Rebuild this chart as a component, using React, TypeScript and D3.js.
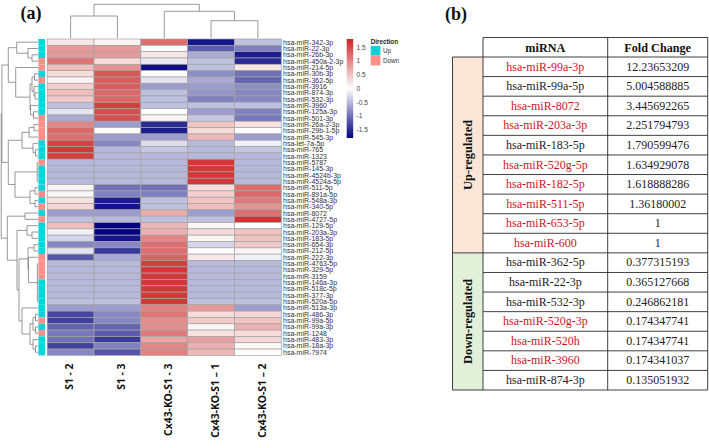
import React from "react";
import * as d3 from "d3";

const samples = ["S1 - 2", "S1 - 3", "Cx43-KO-S1 - 3", "Cx43-KO-S1 – 1", "Cx43-KO-S1 – 2"];
const mirnas = ["342-3p","22-3p","26b-3p","450a-2-3p","214-5p","30b-3p","362-5p","3916","874-3p","532-3p","3960","125a-3p","501-3p","26a-2-3p","29b-1-5p","545-3p","let-7a-5p","765","1323","5787","145-3p","4524b-3p","4524a-5p","511-5p","891a-5p","548a-3p","340-5p","8072","4727-5p","129-5p","203a-3p","183-5p","654-3p","212-5p","222-3p","4763-5p","329-5p","3159","146a-3p","518c-5p","377-3p","520a-5p","513a-3p","486-3p","99a-5p","99a-3p","1248","483-3p","18a-3p","7974"];
const s12 = [.2,.85,.85,1.15,.55,.3,.1,.4,.55,.45,-.45,-.2,-.6,1.0,1.25,1.2,1.55,1.65,1.6,-.5,-.5,-.5,-.5,.1,-.05,.25,.35,-.7,-.45,.55,-.1,-.3,-.85,-.2,-1.2,-.5,-.5,-.5,-.5,-.5,-.5,-.45,-.7,-1.3,-1.35,-1.1,-.95,-1.0,-1.35,-.85];
const s13 = [.1,.85,.85,.3,.9,1.4,1.35,1.35,1.25,1.25,1.6,1.45,1.45,-.7,.02,-.7,-.85,-.5,-.5,-.5,-.5,-.5,-.5,-1.0,-.9,-1.6,-1.65,-.7,-.5,-1.78,-1.78,-1.65,-.85,-1.4,-.6,-.5,-.5,-.5,-.5,-.5,-.5,-.45,-.7,-.85,-.85,-1.1,-1.15,-1.4,-.9,-1.2];
const ko3 = [1.2,.02,.2,-.15,-1.7,0,-.2,-.7,-.45,-.45,-.45,.02,.1,-1.5,-1.6,-.7,-.25,-.4,-.5,-.5,-.5,-.5,-.5,-1.0,-.9,-.45,-.45,.7,-.45,.6,.65,1.0,1.2,1.2,1.3,1.6,1.65,1.65,1.65,1.65,1.65,1.65,1.05,1.15,.95,.95,1.1,.75,1.0,1.05];
const ko1 = [-1.65,-1.15,-.6,-.45,-.45,-.8,-.6,-.7,-.75,-.9,-.45,-.7,-.4,.5,.3,.6,-.5,-.5,-.5,1.65,1.65,1.65,1.65,.3,.4,.5,.55,-.7,-.45,.08,.3,.1,-.3,0,.2,-.5,-.5,-.5,-.5,-.5,-.5,-.45,.85,.3,.45,.1,.25,.8,.65,.6];
const ko2 = [-.45,-.9,-1.6,-1.5,.2,-1.0,-1.1,-.8,-.85,-.85,-.45,-.9,-.95,.25,.02,-.7,-.1,-.4,-.5,-.5,-.5,-.5,-.5,1.2,1.25,1.1,.9,1.2,1.7,0,.5,.5,.45,.1,-.1,-.5,-.5,-.5,-.5,-.5,-.5,-.45,-.7,.35,.5,.65,.3,.35,.05,.02];
const columns = [s12, s13, ko3, ko1, ko2];
// Down annotation, 1-based row numbers; every other row is Up
const downRows = [4,5,7,13,14,15,16,20,25,27,29,35,36,37,38,45,47];
const colorDomain = [-1.8, 0, 1.8];
const colorRange = ["#000080", "#ffffff", "#cd2626"];
const colorTicks = [1.5, 1, 0.5, 0, -0.5, -1, -1.5];

type T = number | T[];
// [merge height, ...children]; a plain number inside children is a row number
const rowTree: T = [36.8,
  [36.1,
    [29.7,
      [21.3, 1, [10, 2, [6, 3, 4]]],
      [22.3, 5, [8,
        [6, [3.5, 6, 7], [4, 8, [3, 9, 10]]],
        [7.5, 11, [4.5, 12, 13]]]]],
    [29.7,
      [16, [9, [4, 14, 15], 16], [5, 17, [2.5, 18, 19]]],
      [23, [0.8, 20, 21, 22, 23], [8, [3, 24, 25], [3, 26, 27]]]]],
  [30.7,
    [13, 28, 29],
    [21,
      [11, 30, [6, 31, 32]],
      [19,
        [10, [4, 33, 34], [9.5, 35, [0.6, 36, 37, 38, 39, 40, 41, 42]]],
        [16, 43, [8,
          [5, [2.5, 44, 45], [2.5, 46, 47]],
          [5, 48, [2.5, 49, 50]]]]]]]];
// column numbers 1..5
const colTree: T = [33.7, [22, 1, 2], [26.7, 3, [17.3, 4, 5]]];

const tableHead = ["miRNA", "Fold Change"];
const upNames = ["hsa-miR-99a-3p","hsa-miR-99a-5p","hsa-miR-8072","hsa-miR-203a-3p","hsa-miR-183-5p","hsa-miR-520g-5p","hsa-miR-182-5p","hsa-miR-511-5p","hsa-miR-653-5p","hsa-miR-600"];
const upFold = ["12.23653209","5.004588885","3.445692265","2.251794793","1.790599476","1.634929078","1.618888286","1.36180002","1","1"];
const upRed = [true,false,true,true,false,true,true,true,true,true];
const downNames = ["hsa-miR-362-5p","hsa-miR-22-3p","hsa-miR-532-3p","hsa-miR-520g-3p","hsa-miR-520h","hsa-miR-3960","hsa-miR-874-3p"];
const downFold = ["0.377315193","0.365127668","0.246862181","0.174347741","0.174347741","0.174341037","0.135051932"];
const downRed = [false,false,false,true,true,true,false];

const W = 709, H = 448;
const hm = { l: 47.2, r: 281.3, t: 39, b: 355.4 };
const labelShift = [-1.5, 4.5, 4, 4, 5];

function dendroPath(tree: T, pos: (leaf: number) => number, hpos: (h: number) => number, horizontal: boolean): string {
  const seg = (a: number, b: number, c: number, d: number) =>
    horizontal ? `M${c},${a}L${d},${b}` : `M${a},${c}L${b},${d}`;
  let out = "";
  const walk = (n: T): [number, number] => {
    if (typeof n === "number") return [pos(n), hpos(0)];
    const [h, ...kids] = n as [number, ...T[]];
    const hp = hpos(h);
    const res = kids.map(walk);
    const a = res[0][0], b = res[res.length - 1][0];
    out += seg(a, b, hp, hp);
    res.forEach(([p, q]) => { out += seg(p, p, hp, q); });
    return [(a + b) / 2, hp];
  };
  walk(tree);
  return out;
}

export default function App() {
  const x = d3.scaleBand<number>().domain(d3.range(samples.length)).range([hm.l, hm.r]);
  const y = d3.scaleBand<number>().domain(d3.range(mirnas.length)).range([hm.t, hm.b]);
  const color = d3.scaleLinear<string>().domain(colorDomain).range(colorRange);
  const rowH = d3.scaleLinear().domain([0, 38]).range([38, 0]);
  const colH = d3.scaleLinear().domain([0, 38]).range([38, 0]);
  const rowD = dendroPath(rowTree, (n) => y(n - 1)! + y.bandwidth() / 2, rowH, true);
  const colD = dendroPath(colTree, (n) => x(n - 1)! + x.bandwidth() / 2, colH, false);

  const legendY = d3.scaleLinear().domain([1.8, -1.8]).range([39, 138]);
  const gradStops = d3.range(0, 1.001, 0.1);

  const tRow = d3.scaleLinear().domain([0, 17]).range([57, 390]);
  const tX = [452.5, 483, 607.7, 707.7];
  const tableRows = [
    ...upNames.map((n, i) => ({ n, f: upFold[i], red: upRed[i] })),
    ...downNames.map((n, i) => ({ n, f: downFold[i], red: downRed[i] })),
  ];
  const tf = "'Liberation Serif', serif";
  const line = "#2b2b2b";

  return (
    <svg width={W} height={H} viewBox={`0 0 ${W} ${H}`} style={{ position: "absolute", left: 0, top: 0, background: "#fff" }}>
      <defs>
        <linearGradient id="cb" x1="0" y1="0" x2="0" y2="1">
          {gradStops.map((t) => (
            <stop key={t} offset={t} stopColor={color(1.8 - 3.6 * t)} />
          ))}
        </linearGradient>
      </defs>
      <text x={20.5} y={18.5} fontFamily={tf} fontWeight="bold" fontSize={18} fill="#111">(a)</text>
      <text x={445} y={19.5} fontFamily={tf} fontWeight="bold" fontSize={18} fill="#111">(b)</text>

      <path d={colD} fill="none" stroke="#8f8f8f" strokeWidth={0.9} />
      <path d={rowD} fill="none" stroke="#7d7d7d" strokeWidth={0.8} />

      {mirnas.map((_, i) => (
        <rect key={i} x={38.4} y={y(i)} width={6.6} height={y.bandwidth()}
          fill={downRows.includes(i + 1) ? "#ff8f88" : "#0bd3dc"} />
      ))}
      {columns.map((col, c) =>
        col.map((v, r) => (
          <rect key={`${c}-${r}`} x={x(c)} y={y(r)} width={x.bandwidth()} height={y.bandwidth()}
            fill={color(v)} stroke="#a3a3a3" strokeWidth={0.7} />
        ))
      )}
      {mirnas.map((m, i) => (
        <text key={m} x={283} y={y(i)! + y.bandwidth() / 2 + 2.5} fontFamily="'Liberation Sans', sans-serif" fontSize={7} fill="#333">
          {m === "let-7a-5p" ? "hsa-let-7a-5p" : `hsa-miR-${m}`}
        </text>
      ))}
      {samples.map((s, i) => {
        const cx = x(i)! + x.bandwidth() / 2 + labelShift[i];
        return (
          <text key={s} transform={`translate(${cx + 3.5},363.5) rotate(-90)`} textAnchor="end"
            fontFamily="'Noto Sans', sans-serif" fontWeight="bold" fontSize={10.4} fill="#111">{s}</text>
        );
      })}

      <rect x={346.7} y={39} width={6.5} height={99} fill="url(#cb)" />
      {colorTicks.map((t) => (
        <text key={t} x={356.5} y={legendY(t) + 2.4} fontFamily="'Liberation Sans', sans-serif" fontSize={6.6} fill="#444">{t}</text>
      ))}
      <text x={370.7} y={44} fontFamily="'Liberation Sans', sans-serif" fontWeight="bold" fontSize={6.3} fill="#222">Direction</text>
      <rect x={370.7} y={46} width={9.7} height={9.6} fill="#0bd3dc" />
      <rect x={370.7} y={55.6} width={9.7} height={9.8} fill="#ff8f88" />
      <text x={383} y={53.2} fontFamily="'Liberation Sans', sans-serif" fontSize={6.3} fill="#333">Up</text>
      <text x={383} y={63} fontFamily="'Liberation Sans', sans-serif" fontSize={6.3} fill="#333">Down</text>

      {/* table */}
      <rect x={tX[0]} y={tRow(0)} width={tX[1] - tX[0]} height={tRow(upNames.length) - tRow(0)} fill="#fbe5d6" />
      <rect x={tX[0]} y={tRow(upNames.length)} width={tX[1] - tX[0]} height={tRow(17) - tRow(upNames.length)} fill="#e2f0d9" />
      <g stroke={line} strokeWidth={0.9}>
        <line x1={tX[1]} x2={tX[3]} y1={37.5} y2={37.5} />
        {d3.range(0, 18).map((i) => (
          <line key={i} x1={i === 0 || i === 10 || i === 17 ? tX[0] : tX[1]} x2={tX[3]} y1={tRow(i)} y2={tRow(i)} />
        ))}
        <line x1={tX[0]} x2={tX[0]} y1={57} y2={390} />
        <line x1={tX[1]} x2={tX[1]} y1={37.5} y2={390} />
        <line x1={tX[2]} x2={tX[2]} y1={37.5} y2={390} />
        <line x1={tX[3]} x2={tX[3]} y1={37.5} y2={390} />
      </g>
      {tableHead.map((h, i) => (
        <text key={h} x={(tX[i + 1] + tX[i + 2]) / 2} y={51.5} textAnchor="middle" fontFamily={tf} fontWeight="bold" fontSize={12.2} fill="#111">{h}</text>
      ))}
      {tableRows.map((r, i) => (
        <g key={i} fontFamily={tf} fontSize={12} textAnchor="middle">
          <text x={(tX[1] + tX[2]) / 2} y={tRow(i) + 13.6} fill={r.red ? "#d0121f" : "#222"}>{r.n}</text>
          <text x={(tX[2] + tX[3]) / 2} y={tRow(i) + 13.6} fill="#222">{r.f}</text>
        </g>
      ))}
      <text transform={`translate(472,${(tRow(0) + tRow(10)) / 2}) rotate(-90)`} textAnchor="middle" fontFamily={tf} fontWeight="bold" fontSize={12.4} fill="#111">Up-regulated</text>
      <text transform={`translate(472,${(tRow(10) + tRow(17)) / 2}) rotate(-90)`} textAnchor="middle" fontFamily={tf} fontWeight="bold" fontSize={12.4} fill="#111">Down-regulated</text>
    </svg>
  );
}
